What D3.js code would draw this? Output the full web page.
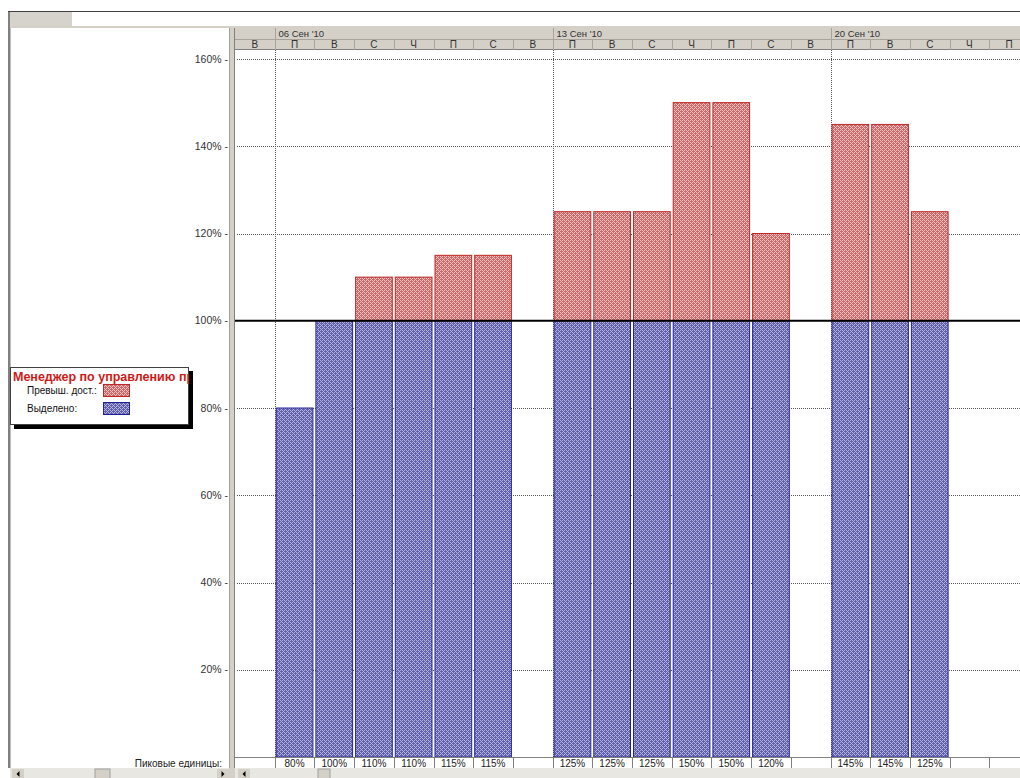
<!DOCTYPE html>
<html>
<head>
<meta charset="utf-8">
<script src="https://cdn.jsdelivr.net/npm/d3@7"></script>
<style>
  html, body { margin: 0; padding: 0; background: #fff; }
  svg { display: block; font-family: "Liberation Sans", Arial, sans-serif; }
</style>
</head>
<body>
<svg id="chart" width="1020" height="778"></svg>
<script>
// Day columns of the timescale (Sunday 05 Sep 2010 .. Friday 24 Sep 2010)
const dayLetters = ["В","П","В","С","Ч","П","С","В","П","В","С","Ч","П","С","В","П","В","С","Ч","П"];
// Week groups in the upper timescale row
const weekLabels = ["06 Сен '10", "13 Сен '10", "20 Сен '10"];
const weekStartIndex = [1, 8, 15];
// Peak units per day (null = no work)
const peakUnits = [null, 80, 100, 110, 110, 115, 115, null, 125, 125, 125, 150, 150, 120, null, 145, 145, 125, null, null];
// Vertical axis ticks
const yTicks = [20, 40, 60, 80, 100, 120, 140, 160];
// Legend entries
const legendTitle = "Менеджер по управлению проектами";
const legendItems = ["Превыш. дост.:", "Выделено:"];
const rowLabel = "Пиковые единицы:";

const svg = d3.select("#chart");
const W = 1020, H = 778;
const chartLeft = 235, colW = 39.7;
const headerTop = 28, headerMid = 39, headerBottom = 50;
const plotBottom = 757, peakBottom = 768;

// patterns for the bar fills
const defs = svg.append("defs");
function dotPattern(id, base, light) {
  const p = defs.append("pattern").attr("id", id).attr("width", 4).attr("height", 4)
    .attr("patternUnits", "userSpaceOnUse");
  p.append("rect").attr("width", 4).attr("height", 4).attr("fill", base);
  [[0, 0], [1, 1], [2, 2], [3, 3], [2, 0], [0, 2]].forEach(([px, py]) =>
    p.append("rect").attr("x", px).attr("y", py).attr("width", 1).attr("height", 1).attr("fill", light));
}
dotPattern("blueFill", "#5f5fab", "#b4b4dc");
dotPattern("redFill", "#c86a6a", "#eec2c2");
const clip = defs.append("clipPath").attr("id", "legendClip");
clip.append("rect").attr("x", 10).attr("y", 367).attr("width", 179).attr("height", 58);

// scales
const x = d3.scaleBand().domain(d3.range(dayLetters.length))
  .range([chartLeft, chartLeft + colW * dayLetters.length]).paddingInner(0).paddingOuter(0);
const y = d3.scaleLinear().domain([0, 160]).range([plotBottom, 59]);

// window frame
svg.append("rect").attr("x", 0).attr("y", 0).attr("width", W).attr("height", H).attr("fill", "#fff");
svg.append("line").attr("x1", 8).attr("x2", W).attr("y1", 11.5).attr("y2", 11.5).attr("stroke", "#404040");
svg.append("rect").attr("x", 8).attr("y", 12).attr("width", 64).attr("height", 14).attr("fill", "#d6d3cc");
svg.append("rect").attr("x", 8).attr("y", 26).attr("width", W - 8).attr("height", 2).attr("fill", "#d4d0c8");
// left pane border
svg.append("rect").attr("x", 8).attr("y", 12).attr("width", 2).attr("height", peakBottom - 12).attr("fill", "#808080");
svg.append("rect").attr("x", 10).attr("y", 28).attr("width", 1).attr("height", peakBottom - 28).attr("fill", "#c0c0c0");
// split bar between panes
svg.append("rect").attr("x", 229).attr("y", 28).attr("width", 6).attr("height", peakBottom - 28).attr("fill", "#d4d0c8");
svg.append("line").attr("x1", 229.5).attr("x2", 229.5).attr("y1", 28).attr("y2", peakBottom).attr("stroke", "#a0a0a0");
svg.append("line").attr("x1", 234.5).attr("x2", 234.5).attr("y1", 28).attr("y2", peakBottom).attr("stroke", "#808080");

// timescale header
const hdr = svg.append("g");
hdr.append("rect").attr("x", chartLeft).attr("y", headerTop).attr("width", W - chartLeft)
  .attr("height", headerBottom - headerTop).attr("fill", "#d4d0c8");
hdr.append("line").attr("x1", chartLeft).attr("x2", W).attr("y1", headerMid + 0.5).attr("y2", headerMid + 0.5).attr("stroke", "#a8a49c");
hdr.append("line").attr("x1", chartLeft).attr("x2", W).attr("y1", headerBottom - 0.5).attr("y2", headerBottom - 0.5).attr("stroke", "#808080");
weekStartIndex.forEach((s, i) => {
  const xs = Math.round(x(s)) + 0.5;
  hdr.append("line").attr("x1", xs).attr("x2", xs).attr("y1", headerTop).attr("y2", headerMid).attr("stroke", "#a8a49c");
  hdr.append("text").attr("x", xs + 3).attr("y", headerMid - 2).attr("font-size", 9.5).attr("fill", "#333")
    .text(weekLabels[i]);
});
dayLetters.forEach((d, i) => {
  const xs = Math.round(x(i) + colW) + 0.5;
  hdr.append("line").attr("x1", xs).attr("x2", xs).attr("y1", headerMid).attr("y2", headerBottom).attr("stroke", "#a8a49c");
  hdr.append("text").attr("x", x(i) + colW / 2).attr("y", headerBottom - 2).attr("text-anchor", "middle")
    .attr("font-size", 10).attr("fill", "#333").text(d);
});

// gridlines
const grid = svg.append("g");
yTicks.forEach(t => {
  if (t === 100) return;
  grid.append("line").attr("x1", 237).attr("x2", W).attr("y1", Math.round(y(t)) + 0.5).attr("y2", Math.round(y(t)) + 0.5)
    .attr("stroke", "#555").attr("stroke-dasharray", "1,1").attr("stroke-width", 1);
});
weekStartIndex.forEach(s => {
  const xs = Math.round(x(s)) + 0.5;
  grid.append("line").attr("x1", xs).attr("x2", xs).attr("y1", headerBottom).attr("y2", plotBottom)
    .attr("stroke", "#555").attr("stroke-dasharray", "1,1");
});

// y axis labels
const yAxis = svg.append("g");
yTicks.forEach(t => {
  yAxis.append("text").attr("x", 228).attr("y", y(t) + 3.5).attr("text-anchor", "end")
    .attr("font-size", 10.5).attr("fill", "#333").text(t + "% -");
});

// bars
const bars = svg.append("g");
peakUnits.forEach((v, i) => {
  if (v == null) return;
  const bx = x(i) + 1.5, bw = x.bandwidth() - 3;
  const alloc = Math.min(v, 100), over = Math.max(v - 100, 0);
  bars.append("rect").attr("x", bx).attr("y", y(alloc)).attr("width", bw).attr("height", y(0) - y(alloc))
    .attr("fill", "url(#blueFill)").attr("stroke", "#24249a").attr("stroke-width", 1);
  if (over > 0) {
    bars.append("rect").attr("x", bx).attr("y", y(100 + over)).attr("width", bw).attr("height", y(100) - y(100 + over))
      .attr("fill", "url(#redFill)").attr("stroke", "#c02828").attr("stroke-width", 1);
  }
});

// 100% availability line
svg.append("line").attr("x1", chartLeft).attr("x2", W).attr("y1", y(100)).attr("y2", y(100))
  .attr("stroke", "#000").attr("stroke-width", 2);

// peak units row
const peakRow = svg.append("g");
peakRow.append("rect").attr("x", chartLeft).attr("y", plotBottom).attr("width", W - chartLeft)
  .attr("height", peakBottom - plotBottom).attr("fill", "#fff");
peakRow.append("line").attr("x1", chartLeft).attr("x2", W).attr("y1", plotBottom + 0.5).attr("y2", plotBottom + 0.5).attr("stroke", "#808080");
peakUnits.forEach((v, i) => {
  const xs = Math.round(x(i) + colW) + 0.5;
  peakRow.append("line").attr("x1", xs).attr("x2", xs).attr("y1", plotBottom).attr("y2", peakBottom).attr("stroke", "#808080");
  if (v != null) {
    peakRow.append("text").attr("x", x(i) + colW / 2).attr("y", peakBottom - 1.5).attr("text-anchor", "middle")
      .attr("font-size", 10).attr("fill", "#222").text(v + "%");
  }
});
svg.append("text").attr("x", 222).attr("y", peakBottom - 1.5).attr("text-anchor", "end")
  .attr("font-size", 10).attr("fill", "#222").text(rowLabel);

// legend box
const lg = svg.append("g");
lg.append("rect").attr("x", 14).attr("y", 371).attr("width", 179).attr("height", 58).attr("fill", "#000");
lg.append("rect").attr("x", 10.5).attr("y", 367.5).attr("width", 178).attr("height", 57)
  .attr("fill", "#fff").attr("stroke", "#404040");
lg.append("text").attr("x", 13).attr("y", 381).attr("font-size", 12.5).attr("font-weight", "bold")
  .attr("fill", "#d01818").attr("clip-path", "url(#legendClip)").text(legendTitle);
const swatchFill = ["url(#redFill)", "url(#blueFill)"];
const swatchStroke = ["#c02828", "#24249a"];
legendItems.forEach((t, i) => {
  const ly = 394 + i * 18;
  lg.append("text").attr("x", 27).attr("y", ly).attr("font-size", 10).attr("fill", "#111").text(t);
  lg.append("rect").attr("x", 103.5).attr("y", ly - 9.5).attr("width", 26).attr("height", 12)
    .attr("fill", swatchFill[i]).attr("stroke", swatchStroke[i]);
});

// scrollbars
const sb = svg.append("g");
sb.append("rect").attr("x", 10).attr("y", peakBottom).attr("width", W - 10).attr("height", H - peakBottom).attr("fill", "#e9e7e1");
function scrollButton(bx, dir) {
  sb.append("rect").attr("x", bx).attr("y", peakBottom + 1).attr("width", 12).attr("height", 10).attr("fill", "#d4d0c8");
  const cx = bx + 6, cy = peakBottom + 6;
  const pts = dir < 0 ? [[cx + 1.5, cy - 3], [cx + 1.5, cy + 3], [cx - 1.5, cy]] : [[cx - 1.5, cy - 3], [cx - 1.5, cy + 3], [cx + 1.5, cy]];
  sb.append("polygon").attr("points", pts.map(p => p.join(",")).join(" ")).attr("fill", "#000");
}
scrollButton(12, -1);
scrollButton(217, 1);
scrollButton(238, -1);
sb.append("rect").attr("x", 95).attr("y", peakBottom + 1).attr("width", 15).attr("height", 10).attr("fill", "#d4d0c8")
  .attr("stroke", "#a0a0a0");
sb.append("rect").attr("x", 318).attr("y", peakBottom + 1).attr("width", 12).attr("height", 10).attr("fill", "#d4d0c8")
  .attr("stroke", "#a0a0a0");
sb.append("rect").attr("x", 229).attr("y", peakBottom).attr("width", 6).attr("height", H - peakBottom).attr("fill", "#d4d0c8");
</script>
</body>
</html>
